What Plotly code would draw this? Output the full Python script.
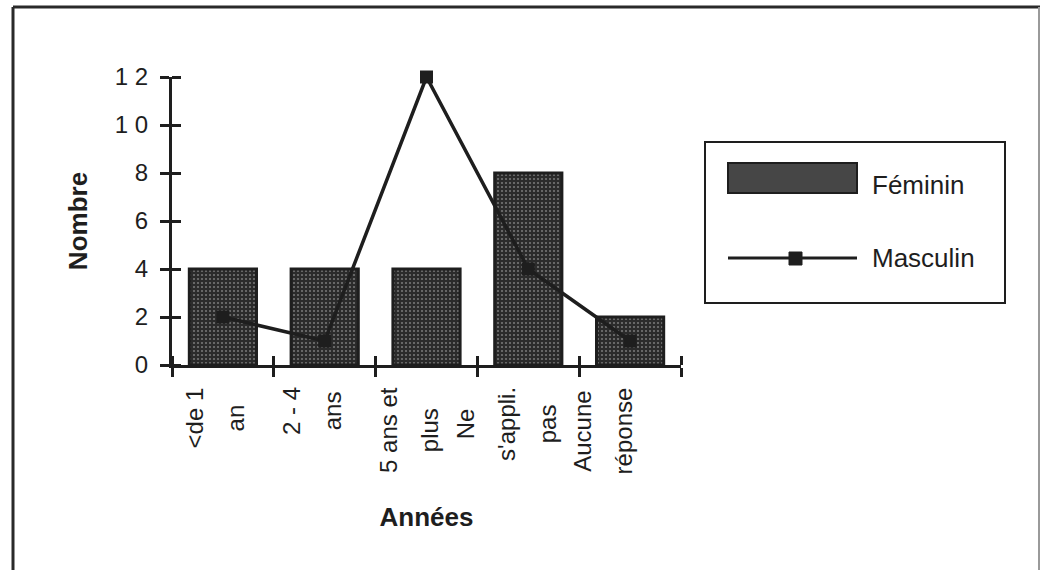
import plotly.graph_objects as go

# Catégories (une liste de lignes par étiquette) et effectifs par sexe
annees = [["<de 1", "an"], ["2 - 4", "ans"], ["5 ans et", "plus"],
          ["Ne", "s'appli.", "pas"], ["Aucune", "réponse"]]
feminin = [4, 4, 4, 8, 2]
masculin = [2, 1, 12, 4, 1]
y_ticks = [0, 2, 4, 6, 8, 10, 12]
y_tick_labels = ["0", "2", "4", "6", "8", "1 0", "1 2"]

FONT = "Liberation Sans, Arial, Helvetica, sans-serif"
INK = "#1e1e1e"

W, H = 1041, 570
L, R, T, B = 172, 360, 77, 205
PW, PH = W - L - R, H - T - B


def px(xp):
    """pixel x -> paper x"""
    return (xp - L) / PW


def py(yp):
    """pixel y (from top) -> paper y"""
    return (H - B - yp) / PH


pos = list(range(len(annees)))
bounds = [p - 0.5 for p in pos] + [pos[-1] + 0.5]
# tiny offset so the inner half of each tick is kept as a minor tick
EPS = 1e-4

fig = go.Figure()
fig.add_trace(go.Bar(
    x=pos, y=feminin, name="Féminin", width=0.66, showlegend=False,
    marker=dict(
        color="#2b2b2b",
        line=dict(color=INK, width=3),
        pattern=dict(shape=".", fgcolor="#c0c0c0", bgcolor="#2b2b2b",
                     size=4, solidity=0.22),
    ),
))
fig.add_trace(go.Scatter(
    x=pos, y=masculin, name="Masculin", mode="lines+markers",
    showlegend=False, cliponaxis=False,
    line=dict(color=INK, width=3.5),
    marker=dict(symbol="square", size=13, color=INK),
))

# Étiquettes de catégories, verticales, sur plusieurs lignes
annotations = []
for i, lignes in enumerate(annees):
    txt = "<br>".join(
        "<span style='font-size:24px'>%s</span>" % l.replace("<", "&lt;")
        for l in lignes)
    annotations.append(dict(
        x=i, xref="x", y=py(385), yref="paper", text=txt, textangle=-90,
        showarrow=False, xanchor="center", yanchor="top", align="center",
        xshift=-8 - 4.8 * i,
        font=dict(family=FONT, size=31.5, color=INK),
    ))

# Légende
annotations += [
    dict(x=px(870), y=py(185), xref="paper", yref="paper", text="Féminin",
         showarrow=False, xanchor="left", yanchor="middle",
         font=dict(family=FONT, size=26, color=INK)),
    dict(x=px(870), y=py(258), xref="paper", yref="paper", text="Masculin",
         showarrow=False, xanchor="left", yanchor="middle",
         font=dict(family=FONT, size=26, color=INK)),
]

shapes = [
    # cadre du graphique
    dict(type="line", xref="paper", yref="paper", x0=px(13), x1=px(1040),
         y0=py(7), y1=py(7), line=dict(color="#2a2a2a", width=3)),
    dict(type="line", xref="paper", yref="paper", x0=px(13), x1=px(13),
         y0=py(7), y1=py(580), line=dict(color="#2a2a2a", width=3)),
    dict(type="line", xref="paper", yref="paper", x0=px(1039), x1=px(1039),
         y0=py(7), y1=py(580), line=dict(color="#9a9a9a", width=2)),
    # boîte de légende
    dict(type="rect", xref="paper", yref="paper", x0=px(705), x1=px(1005),
         y0=py(142), y1=py(303), line=dict(color=INK, width=2),
         fillcolor="rgba(0,0,0,0)"),
    dict(type="rect", xref="paper", yref="paper", x0=px(728), x1=px(857),
         y0=py(163), y1=py(193), line=dict(color=INK, width=2),
         fillcolor="#464646"),
    dict(type="line", xref="paper", yref="paper", x0=px(728), x1=px(857),
         y0=py(258), y1=py(258), line=dict(color=INK, width=3)),
    dict(type="rect", xref="paper", yref="paper", x0=px(789), x1=px(802),
         y0=py(252), y1=py(265), line=dict(color=INK, width=1),
         fillcolor=INK),
]

axis_common = dict(showgrid=False, zeroline=False, tickwidth=3,
                   tickcolor=INK, ticklen=9, showline=True, linewidth=3,
                   linecolor=INK, ticks="outside")

fig.update_layout(
    width=W, height=H,
    margin=dict(l=L, r=R, t=T, b=B, autoexpand=False),
    paper_bgcolor="white", plot_bgcolor="white",
    font=dict(family=FONT, color=INK),
    bargap=0.34,
    xaxis=dict(range=[bounds[0], bounds[-1]], tickvals=bounds,
               showticklabels=False,
               minor=dict(tickvals=[b + EPS for b in bounds], ticks="inside",
                          ticklen=9, tickwidth=3, tickcolor=INK,
                          showgrid=False),
               title=dict(text="<b>Années</b>", standoff=132,
                          font=dict(family=FONT, size=26, color=INK)),
               **axis_common),
    yaxis=dict(range=[0, 12], tickvals=y_ticks, ticktext=y_tick_labels,
               ticklabelstandoff=7,
               minor=dict(tickvals=[v + EPS for v in y_ticks], ticks="inside",
                          ticklen=9, tickwidth=3, tickcolor=INK,
                          showgrid=False),
               tickfont=dict(family=FONT, size=24, color=INK),
               title=dict(text="<b>Nombre</b>", standoff=20,
                          font=dict(family=FONT, size=26, color=INK)),
               **axis_common),
    annotations=annotations,
    shapes=shapes,
)

fig.write_html("out.html")
